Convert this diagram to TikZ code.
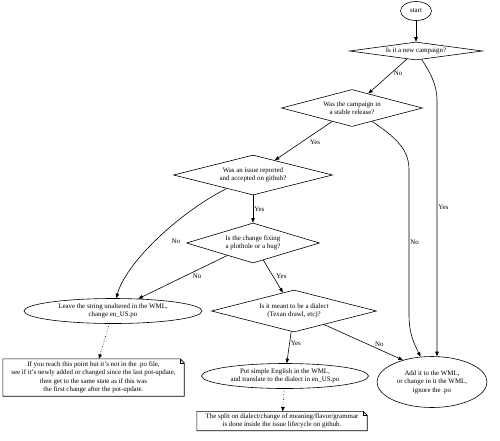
\documentclass[tikz,border=0pt]{standalone}
\usepackage{fontspec}
\setmainfont{Liberation Serif}
\usetikzlibrary{arrows.meta,shapes.geometric,calc}

% note outline with a folded corner
\newcommand{\noteoutline}[1]{%
  \draw[line width=0.6pt] (#1.south west) -- (#1.south east) -- ([yshift=-4pt]#1.north east)
    -- ([xshift=-4pt]#1.north east) -- (#1.north west) -- cycle;
  \draw[line width=0.6pt] ([xshift=-4pt]#1.north east) -- ([xshift=-4pt,yshift=-4pt]#1.north east)
    -- ([yshift=-4pt]#1.north east);}

\begin{document}
\begin{tikzpicture}[x=1pt,y=-1pt,
    font=\fontsize{6.9}{8.4}\selectfont,
    terminal/.style={ellipse,draw,line width=0.6pt,align=center,inner sep=0pt},
    question/.style={diamond,draw,line width=0.6pt,align=center,inner sep=0pt},
    notebox/.style={rectangle,align=center,inner sep=0pt},
    flow/.style={line width=0.6pt,-{Triangle[length=4.5pt,width=3.5pt]}},
    lbl/.style={inner sep=0pt}]
  \useasboundingbox (0,0) rectangle (500,440);

  % questions
  \node[terminal,minimum width=31pt,minimum height=19pt] (start) at (416,11) {start};
  \node[question,minimum width=133pt,minimum height=18pt,aspect=7.4] (newcamp) at (416,51) {Is it a new campaign?};
  \node[question,minimum width=141pt,minimum height=37pt,aspect=3.8] (stable) at (352,108) {Was the campaign in\\a stable release?};
  \node[question,minimum width=159pt,minimum height=40pt,aspect=4] (issue) at (253,175) {Was an issue reported\\and accepted on github?};
  \node[question,minimum width=133pt,minimum height=40pt,aspect=3.3] (plothole) at (253,243) {Is the change fixing\\a plothole or a bug?};
  \node[question,minimum width=165pt,minimum height=42pt,aspect=3.9] (dialect) at (294,311) {Is it meant to be a dialect\\(Texan drawl, etc)?};

  % outcomes
  \node[terminal,minimum width=178pt,minimum height=25pt] (leave) at (113,311) {Leave the string unaltered in the WML,\\change en\_US.po};
  \node[terminal,minimum width=167pt,minimum height=25pt] (simple) at (285,376) {Put simple English in the WML,\\and translate to the dialect in en\_US.po};
  \node[terminal,minimum width=110pt,minimum height=51pt] (addwml) at (432,382) {Add it to the WML,\\or change in it the WML,\\ignore the .po};

  % notes
  \node[notebox,minimum width=181pt,minimum height=37pt] (potnote) at (93.5,377.5) {If you reach this point but it's not in the .po file,\\see if it's newly added or changed since the last pot-update,\\then get to the same state as if this was\\the first change after the pot-update.};
  \node[notebox,minimum width=170pt,minimum height=19pt] (splitnote) at (282,421) {The split on dialect/change of meaning/flavor/grammar\\is done inside the issue lifecycle on github.};
  \noteoutline{potnote}
  \noteoutline{splitnote}

  % edges
  \draw[flow] (start) -- (newcamp);
  \draw[flow] (newcamp) -- (stable) node[lbl,pos=0.4,right=2pt] {No};
  \draw[flow] (stable) -- (issue) node[lbl,pos=0.53,right=8pt] {Yes};
  \draw[flow] (issue) -- (plothole) node[lbl,midway,right=1pt] {Yes};
  \draw[flow] (issue) .. controls (175,215) and (125,265) .. (leave) node[lbl,pos=0.5,right=16pt] {No};
  \draw[flow] (plothole) -- (leave) node[lbl,pos=0.34,below=3pt] {No};
  \draw[flow] (plothole) -- (dialect) node[lbl,midway,right=3pt] {Yes};
  \draw[flow] (dialect) -- (simple) node[lbl,pos=0.36,right=1pt] {Yes};
  \draw[flow] (dialect) -- (addwml.143) node[lbl,pos=0.7,above=3pt] {No};
  \draw[flow] (stable) .. controls (400,140) and (409,152) .. (409,170) -- (409,315)
    node[lbl,midway,right=1pt] {No} .. controls (409,335) and (415,345) .. (addwml);
  \coordinate (yesbend) at (437,100);
  \draw[flow] (newcamp) .. controls (430,72) and (437,85) .. (yesbend) -- (yesbend |- addwml.north)
    node[lbl,pos=0.42,right=1pt] {Yes};
  \draw[flow,dotted] (leave) -- (potnote);
  \draw[flow,dotted] (simple) -- (splitnote);
\end{tikzpicture}
\end{document}
